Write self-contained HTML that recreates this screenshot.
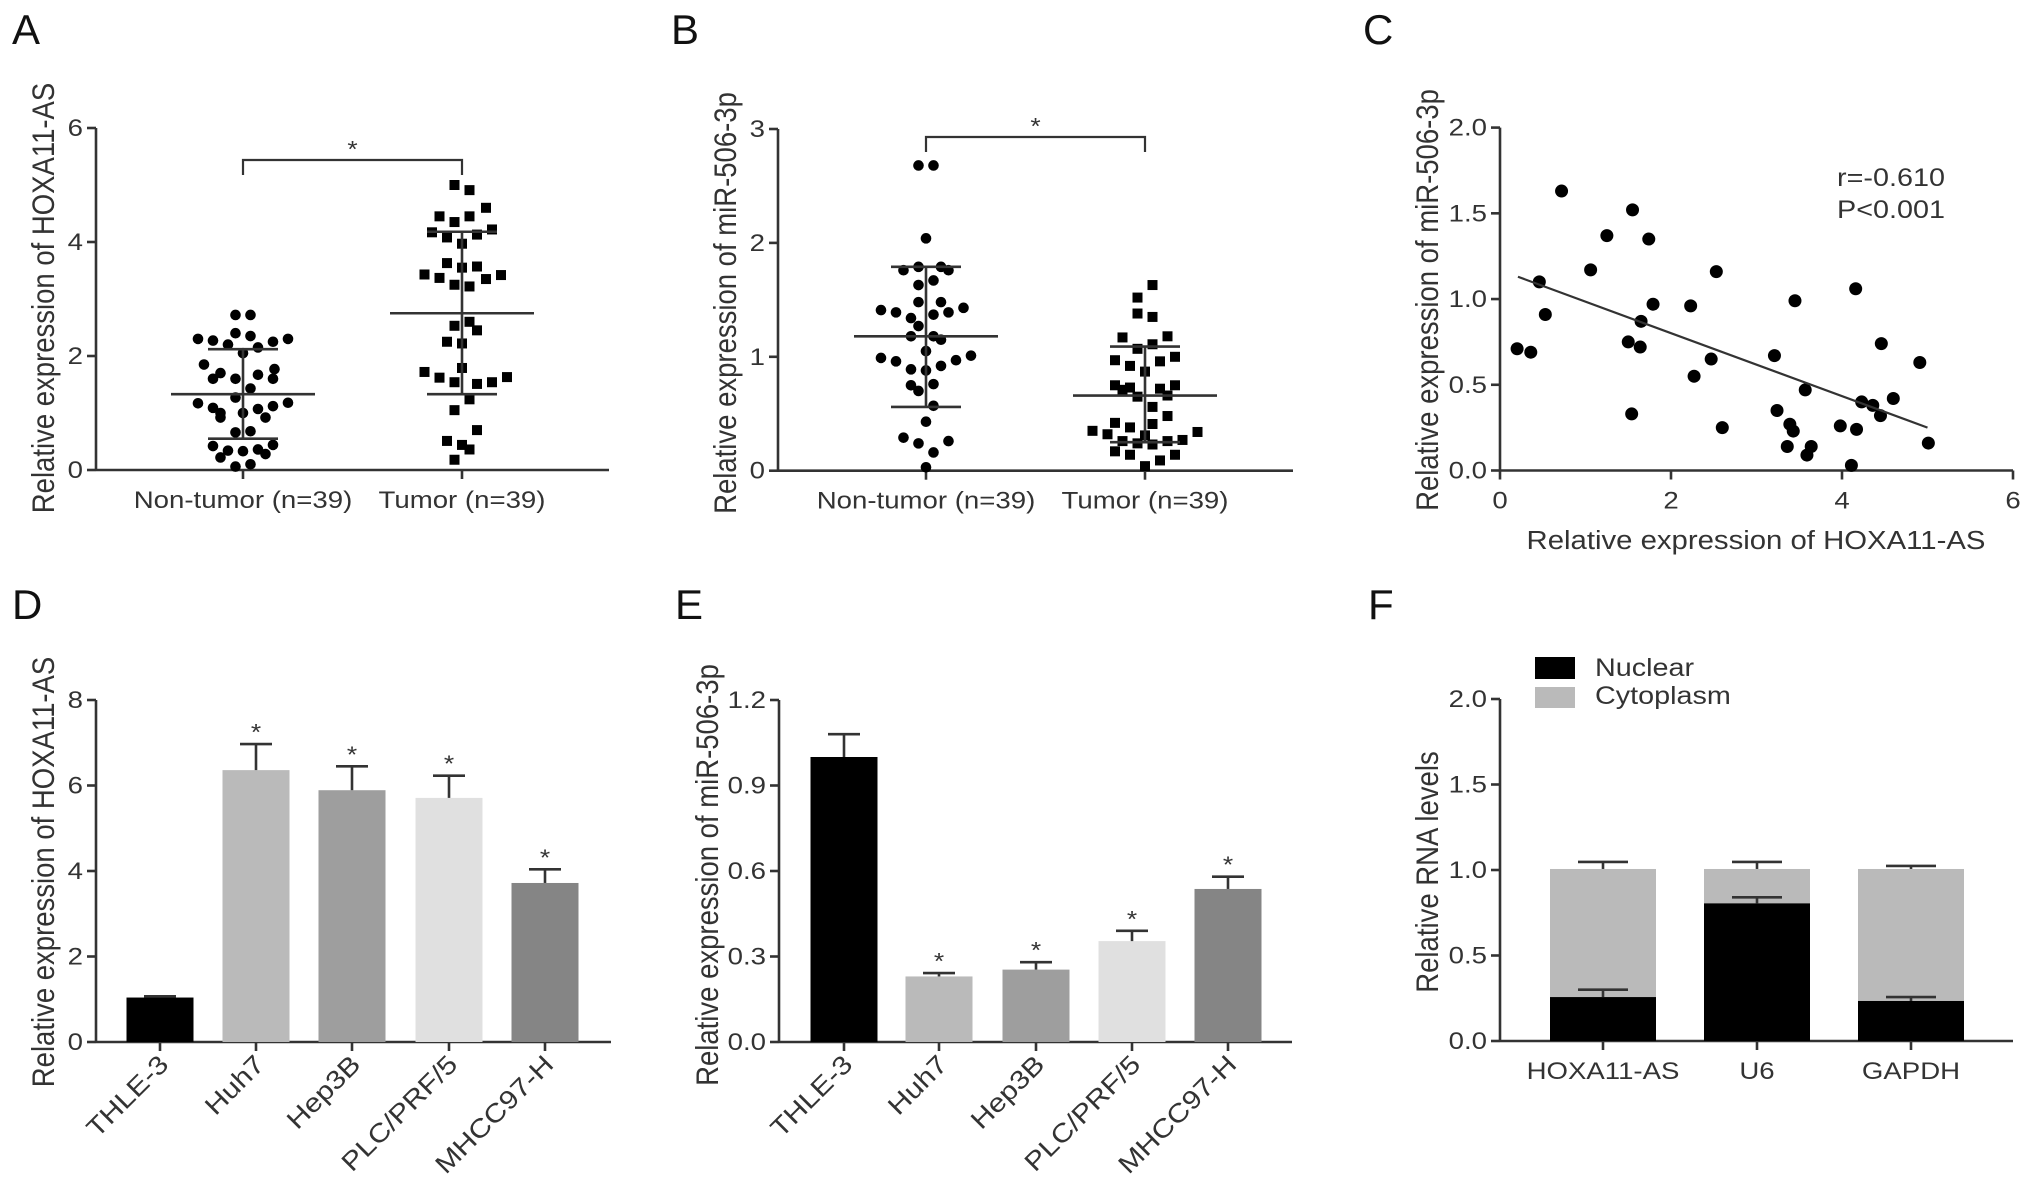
<!DOCTYPE html>
<html><head><meta charset="utf-8"><style>
html,body{margin:0;padding:0;background:#fff;}
svg{display:block;font-family:"Liberation Sans",Arial,sans-serif;}
</style></head><body>
<svg id="fig" width="2031" height="1179" viewBox="0 0 2031 1179" xmlns="http://www.w3.org/2000/svg"></svg>
<script>
// ---------- DATA ----------
const aNonSlots=[-0.5,0.5,-3,-2,-0.5,0.5,2,3,-1,1,0,-2.6,2.1,-1.5,1,-2,2,-0.5,0.5,-0.5,-3,3,-2,2,-1.5,1,0,-1.5,1.5,-0.5,0.5,-2,2,-1,0,1,-1.5,1.5,-0.5,0.5];
const aNonVals=[2.72,2.72,2.3,2.27,2.4,2.35,2.25,2.3,2.2,2.15,2.05,1.85,1.77,1.7,1.67,1.6,1.6,1.6,1.43,1.27,1.17,1.18,1.09,1.12,1.0,1.07,1.0,0.92,0.92,0.66,0.68,0.42,0.44,0.34,0.33,0.36,0.22,0.28,0.06,0.1];
const aTumSlots=[-0.5,0.5,1.6,-1.5,0.5,-0.5,-2,2,-1,1,0,-1,0,1,-2.5,-1.5,2.6,-0.5,0.5,1.6,-0.5,0.5,1,-1,0,0,-2.5,-1.5,-0.5,1,2,3,0.5,-0.5,1,-1,0,0.5,-0.5];
const aTumVals=[5.0,4.91,4.6,4.45,4.45,4.35,4.17,4.22,4.08,4.13,3.97,3.63,3.55,3.57,3.43,3.37,3.42,3.25,3.22,3.35,2.53,2.6,2.45,2.25,2.22,1.79,1.72,1.62,1.54,1.51,1.54,1.63,1.24,1.05,0.7,0.51,0.44,0.36,0.18];
const aMeans=[1.33,2.75], aSdHi=[2.12,4.18], aSdLo=[0.55,1.33];
const bNonSlots=[-0.5,0.5,0,-1.5,-0.5,1,1.5,-0.5,0.5,-0.5,1,-3,-2,-1,0.5,1.5,2.5,-0.5,-1,0.5,1,0,-3,-2,2,3,-1,0,1,-1,-0.5,0.5,0.5,0,-1.5,-0.5,1.5,0.5,0];
const bNonVals=[2.68,2.68,2.04,1.76,1.79,1.79,1.76,1.63,1.67,1.48,1.48,1.41,1.39,1.34,1.37,1.39,1.43,1.27,1.18,1.18,1.15,1.05,0.99,0.96,0.97,1.01,0.89,0.88,0.92,0.75,0.7,0.76,0.57,0.43,0.29,0.24,0.26,0.16,0.03];
const bTumSlots=[0.5,-0.5,-0.5,0.5,-1.5,1.5,-0.5,0.5,-2,2,1,-1,0,-2,2,-1.5,-1,1,-0.5,1.5,0.5,1.5,-2,-1,0.5,-3.5,-2.5,3.5,-1.5,-0.5,0.5,1.5,2.5,-2,-1,2,1,0,0];
const bTumVals=[1.63,1.52,1.38,1.35,1.17,1.18,1.07,1.11,0.97,1.0,0.96,0.92,0.87,0.75,0.75,0.71,0.73,0.72,0.65,0.66,0.56,0.48,0.42,0.38,0.41,0.35,0.32,0.34,0.26,0.24,0.23,0.26,0.27,0.17,0.14,0.14,0.09,0.04,0.31];
const bMeans=[1.18,0.66], bSdHi=[1.79,1.09], bSdLo=[0.56,0.25];
const cX=[0.2,0.36,0.46,0.53,0.72,1.06,1.25,1.55,1.74,1.5,1.64,1.65,1.79,1.54,2.23,2.27,2.47,2.53,2.6,3.21,3.24,3.36,3.39,3.43,3.45,3.57,3.59,3.64,3.98,4.11,4.16,4.17,4.23,4.36,4.45,4.46,4.6,4.91,5.01];
const cY=[0.71,0.69,1.1,0.91,1.63,1.17,1.37,1.52,1.35,0.75,0.72,0.87,0.97,0.33,0.96,0.55,0.65,1.16,0.25,0.67,0.35,0.14,0.27,0.23,0.99,0.47,0.09,0.14,0.26,0.03,1.06,0.24,0.4,0.38,0.32,0.74,0.42,0.63,0.16];
const cFitX=[0.21,5.0], cFitY=[1.13,0.25];
const cellLines=["THLE-3","Huh7","Hep3B","PLC/PRF/5","MHCC97-H"];
const dVals=[1.04,6.36,5.89,5.71,3.72];
const dErr=[0.03,0.61,0.56,0.52,0.32];
const eVals=[1.0,0.23,0.254,0.354,0.537];
const eErr=[0.08,0.012,0.026,0.036,0.043];
const dTicks=[0,2,4,6,8];
const eTicks=["0.0","0.3","0.6","0.9","1.2"];
const fCats=["HOXA11-AS","U6","GAPDH"];
const fNuclear=[0.257,0.805,0.234];
const fNucErr=[0.043,0.035,0.023];
const fCyto=[0.749,0.201,0.772];
const fTotErr=[0.041,0.041,0.018];
const fTicks=["0.0","0.5","1.0","1.5","2.0"];

// ---------- helpers ----------
const NS="http://www.w3.org/2000/svg";
const svg=document.getElementById('fig');
const INK="#333";
const SX=1.15;
function mk(tag,attrs,parent,name){
  const e=document.createElementNS(NS,tag);
  for(const k in attrs) e.setAttribute(k,attrs[k]);
  
  
  (parent||svg).appendChild(e);
  return e;
}
function txt(s,x,y,size,anchor,parent,name){
  const t=mk('text',{x:0,y:0,'font-size':size,'text-anchor':anchor||'middle',fill:INK,
    transform:`translate(${x},${y}) scale(${SX},1)`},parent,name);
  t.textContent=s;return t;
}
function line(x1,y1,x2,y2,parent,name,w){
  return mk('line',{x1,y1,x2,y2,stroke:INK,'stroke-width':w||2.6},parent,name);
}
function yAxis(g,ax,y0,yTopPix,vmax,ticks,labels,xEnd){
  const ys=v=>y0+(yTopPix-y0)*v/vmax;
  line(ax,ys(vmax),ax,y0,g,'y-axis-line');
  line(ax,y0,xEnd,y0,g,'x-axis-line');
  ticks.forEach((t,i)=>{
    line(ax-9,ys(t),ax,ys(t),g,'y-tick');
    txt(labels[i],ax-13,ys(t)+8,24,'end',g,'y-tick-label');
  });
  return ys;
}
function letter(s,x,y){const t=mk('text',{x,y,'font-size':42,fill:'#111'},svg,'panel-label-'+s.toLowerCase());t.textContent=s;}
function yTitle(s,x,cy,g,size){
  const t=txt(s,0,0,size||27.5,'middle',g,'y-axis-title');
  t.setAttribute('transform',`translate(${x},${cy}) rotate(-90) scale(1,${SX})`);
}

// ---------- Panel A & B ----------
function dotPanel(cfg){
  const g=mk('g',{},svg,cfg.name);
  const ys=yAxis(g,cfg.ax,cfg.y0,cfg.yTop,cfg.vmax,cfg.ticks,cfg.ticks.map(String),cfg.xEnd);
  const cx=cfg.cats;
  cx.forEach((x,i)=>{line(x,cfg.y0,x,cfg.y0+9,g,'x-tick');txt(cfg.catLabels[i],x,cfg.y0+38,24,'middle',g,'x-tick-label');});
  cfg.nonVals.forEach((v,i)=>{mk('circle',{cx:cx[0]+cfg.nonSlots[i]*15,cy:ys(v),r:5.3,fill:'#000'},g,'non-tumor-point');});
  cfg.tumVals.forEach((v,i)=>{const x=cx[1]+cfg.tumSlots[i]*15;mk('rect',{x:x-5,y:ys(v)-5,width:10,height:10,fill:'#000'},g,'tumor-point');});
  [0,1].forEach(i=>{
    line(cx[i]-72,ys(cfg.means[i]),cx[i]+72,ys(cfg.means[i]),g,'mean-line');
    line(cx[i],ys(cfg.sdHi[i]),cx[i],ys(cfg.sdLo[i]),g,'sd-line');
    line(cx[i]-35,ys(cfg.sdHi[i]),cx[i]+35,ys(cfg.sdHi[i]),g,'sd-cap-upper');
    line(cx[i]-35,ys(cfg.sdLo[i]),cx[i]+35,ys(cfg.sdLo[i]),g,'sd-cap-lower');
  });
  mk('polyline',{points:`${cx[0]},${cfg.brY+15} ${cx[0]},${cfg.brY} ${cx[1]},${cfg.brY} ${cx[1]},${cfg.brY+15}`,fill:'none',stroke:INK,'stroke-width':2.2},g,'significance-bracket');
  txt('*',(cx[0]+cx[1])/2,cfg.brY-3,23,'middle',g,'significance-star');
  yTitle(cfg.title,cfg.titleX,cfg.titleY,g);
}
dotPanel({name:'panel-a',ax:96,y0:470,yTop:128,vmax:6,ticks:[0,2,4,6],xEnd:609,cats:[243,462],
  catLabels:['Non-tumor (n=39)','Tumor (n=39)'],nonSlots:aNonSlots,nonVals:aNonVals,tumSlots:aTumSlots,tumVals:aTumVals,
  means:aMeans,sdHi:aSdHi,sdLo:aSdLo,brY:160,title:'Relative expression of HOXA11-AS',titleX:54,titleY:298});
dotPanel({name:'panel-b',ax:778,y0:470.7,yTop:129,vmax:3,ticks:[0,1,2,3],xEnd:1293,cats:[926,1145],
  catLabels:['Non-tumor (n=39)','Tumor (n=39)'],nonSlots:bNonSlots,nonVals:bNonVals,tumSlots:bTumSlots,tumVals:bTumVals,
  means:bMeans,sdHi:bSdHi,sdLo:bSdLo,brY:137,title:'Relative expression of miR-506-3p',titleX:736,titleY:303});
letter('A',12,44);letter('B',671,44);

// ---------- Panel C ----------
(function(){
  const g=mk('g',{},svg,'panel-c');
  const x0=1500,x1=2013,y0=470.5,y1=127.6;
  const xs=v=>x0+(x1-x0)*v/6, ys=v=>y0+(y1-y0)*v/2;
  line(x0,y1,x0,y0,g,'y-axis-line');line(x0,y0,x1,y0,g,'x-axis-line');
  ["0.0","0.5","1.0","1.5","2.0"].forEach(t=>{const v=parseFloat(t);line(x0-9,ys(v),x0,ys(v),g,'y-tick');txt(t,x0-13,ys(v)+8,24,'end',g,'y-tick-label');});
  [0,2,4,6].forEach(t=>{line(xs(t),y0,xs(t),y0+9,g,'x-tick');txt(String(t),xs(t),y0+38,24,'middle',g,'x-tick-label');});
  cX.forEach((v,i)=>{mk('circle',{cx:xs(v),cy:ys(cY[i]),r:6.5,fill:'#000'},g,'scatter-point');});
  line(xs(cFitX[0]),ys(cFitY[0]),xs(cFitX[1]),ys(cFitY[1]),g,'regression-line',2.2);
  txt('r=-0.610',1891,186,25,'middle',g,'correlation-r');
  txt('P<0.001',1891,218,25,'middle',g,'p-value');
  txt('Relative expression of HOXA11-AS',1756,549,25.5,'middle',g,'x-axis-title');
  yTitle('Relative expression of miR-506-3p',1438,300,g);
})();
letter('C',1363,44);

// ---------- Panel D & E ----------
const barColors=['#000','#bababa','#9e9e9e','#e0e0e0','#858585'];
function barPanel(cfg){
  const g=mk('g',{},svg,cfg.name);
  const ys=yAxis(g,cfg.ax,cfg.y0,cfg.yTop,cfg.vmax,cfg.ticks,cfg.labels,cfg.xEnd);
  cfg.vals.forEach((v,i)=>{
    const x=cfg.cats[i];
    mk('rect',{x:x-33.5,y:ys(v),width:67,height:cfg.y0-ys(v),fill:barColors[i]},g,'bar-'+cellLines[i].toLowerCase().replace(/[^a-z0-9]/g,''));
    const top=ys(v+cfg.err[i]);
    line(x,ys(v),x,top,g,'error-bar');
    line(x-16,top,x+16,top,g,'error-cap');
    if(i>0) txt('*',x,top-4,23,'middle',g,'significance-star');
    line(x,cfg.y0,x,cfg.y0+9,g,'x-tick');
    const t=mk('text',{x:0,y:0,'font-size':26,'text-anchor':'end',fill:INK,transform:`translate(${x+10},${cfg.y0+24}) rotate(-45) scale(${SX},1)`},g,'x-tick-label');
    t.textContent=cellLines[i];
  });
  yTitle(cfg.title,cfg.titleX,cfg.titleY,g);
}
barPanel({name:'panel-d',ax:96,y0:1042,yTop:700,vmax:8,ticks:dTicks,labels:dTicks.map(String),xEnd:611,
  cats:[160,256,352,449,545],vals:dVals,err:dErr,title:'Relative expression of HOXA11-AS',titleX:54,titleY:872});
barPanel({name:'panel-e',ax:779,y0:1042,yTop:700,vmax:1.2,ticks:eTicks.map(Number),labels:eTicks,xEnd:1292,
  cats:[844,939,1036,1132,1228],vals:eVals,err:eErr,title:'Relative expression of miR-506-3p',titleX:718,titleY:875});
letter('D',12,619);letter('E',675,619);

// ---------- Panel F ----------
(function(){
  const g=mk('g',{},svg,'panel-f');
  const ticks=fTicks.map(Number);
  const ys=yAxis(g,1500,1041,699,2,ticks,fTicks,2013);
  const cats=[1603,1757,1911];
  fCats.forEach((c,i)=>{
    const x=cats[i],n=fNuclear[i],tot=n+fCyto[i];
    mk('rect',{x:x-53,y:ys(tot),width:106,height:ys(n)-ys(tot),fill:'#bababa'},g,'bar-cytoplasm-'+c.toLowerCase());
    mk('rect',{x:x-53,y:ys(n),width:106,height:1041-ys(n),fill:'#000'},g,'bar-nuclear-'+c.toLowerCase());
    line(x,ys(tot),x,ys(tot+fTotErr[i]),g,'error-bar');line(x-25,ys(tot+fTotErr[i]),x+25,ys(tot+fTotErr[i]),g,'error-cap');
    line(x,ys(n),x,ys(n+fNucErr[i]),g,'error-bar');line(x-25,ys(n+fNucErr[i]),x+25,ys(n+fNucErr[i]),g,'error-cap');
    line(x,1041,x,1050,g,'x-tick');
    txt(c,x,1079,24,'middle',g,'x-tick-label');
  });
  const lg=mk('g',{},g,'legend');
  mk('rect',{x:1535,y:657,width:40,height:22,fill:'#000'},lg,'legend-swatch-nuclear');
  mk('rect',{x:1535,y:687,width:40,height:21,fill:'#bababa'},lg,'legend-swatch-cytoplasm');
  txt('Nuclear',1595,676,25,'start',lg,'legend-entry-nuclear');
  txt('Cytoplasm',1595,704,25,'start',lg,'legend-entry-cytoplasm');
  yTitle('Relative RNA levels',1438,872,g);
})();
letter('F',1368,619);
</script>
</body></html>
